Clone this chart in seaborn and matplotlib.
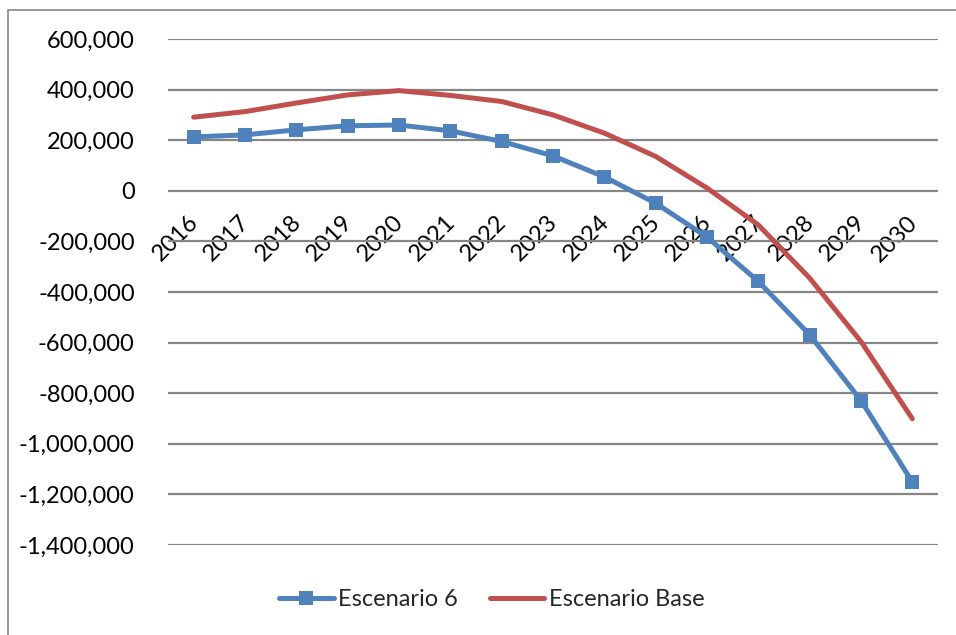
import matplotlib
matplotlib.use("Agg")
import matplotlib.pyplot as plt
import matplotlib.ticker as mticker
from matplotlib.lines import Line2D
from matplotlib.patches import Rectangle
from matplotlib.transforms import ScaledTranslation
import seaborn as sns
import pandas as pd

years = ["2016", "2017", "2018", "2019", "2020", "2021", "2022", "2023",
         "2024", "2025", "2026", "2027", "2028", "2029", "2030"]
escenario_6 = [213000, 221000, 241000, 257000, 260000, 237000, 195000, 138000,
               55000, -49000, -183000, -358000, -569000, -829000, -1151000]
escenario_base = [291000, 313000, 347000, 379000, 396000, 377000, 353000, 300000,
                  228000, 136000, 11000, -135000, -345000, -596000, -901000]
y_ticks = [600000, 400000, 200000, 0, -200000, -400000, -600000, -800000,
           -1000000, -1200000, -1400000]

blue = "#4F81BD"
red = "#C0504D"
grid_gray = "#868686"

sns.set_theme(style="white")
plt.rcParams["font.family"] = ["Lato", "DejaVu Sans"]

df = pd.DataFrame({"Año": years, "Escenario 6": escenario_6,
                   "Escenario Base": escenario_base})
df["pos"] = range(len(years))

fig = plt.figure(figsize=(9.56, 6.35), dpi=100)
ax = fig.add_axes([168 / 956, 1 - 545 / 635, (938 - 168) / 956, (545 - 39) / 635])

# chart-area frame
fig.patches.append(Rectangle((8 / 956, -0.1), 1.2, 1 - 10 / 635 + 0.1,
                             transform=fig.transFigure, fill=False,
                             edgecolor=grid_gray, linewidth=1.2, zorder=0))

for v in y_ticks:
    ax.axhline(v, color=grid_gray, linewidth=1.6, zorder=1)

sns.lineplot(data=df, x="pos", y="Escenario Base", ax=ax, color=red,
             linewidth=3.6, zorder=3, solid_capstyle="round")
sns.lineplot(data=df, x="pos", y="Escenario 6", ax=ax, color=blue,
             linewidth=3.6, marker="s", markersize=10, markeredgewidth=0,
             markerfacecolor=blue, zorder=4)

for s in ["top", "right", "left", "bottom"]:
    ax.spines[s].set_visible(False)
# category axis crosses the value axis at zero
ax.spines["bottom"].set_position(("data", 0))

ax.set_xlim(-0.5, len(years) - 0.5)
ax.set_ylim(-1400000, 600000)
ax.set_yticks(y_ticks)
ax.yaxis.set_major_formatter(mticker.FuncFormatter(lambda v, p: f"{int(v):,}"))
ax.tick_params(axis="y", length=0, pad=24, labelsize=17, labelcolor="black")

ax.set_xticks(range(len(years)))
ax.set_xticklabels(years, rotation=45, ha="right", va="top",
                   rotation_mode="anchor", fontsize=17)
ax.tick_params(axis="x", length=0, pad=15, labelcolor="black")
shift = ScaledTranslation(-0.06, 0, fig.dpi_scale_trans)
for lbl in ax.get_xticklabels():
    lbl.set_transform(lbl.get_transform() + shift)
ax.set_xlabel("")
ax.set_ylabel("")
if ax.get_legend():
    ax.get_legend().remove()

handles = [Line2D([], [], color=blue, linewidth=3.6, marker="s", markersize=10,
                  markeredgewidth=0),
           Line2D([], [], color=red, linewidth=3.6)]
fig.legend(handles, ["Escenario 6", "Escenario Base"], loc="center",
           bbox_to_anchor=(492 / 956, 1 - 600 / 635), ncol=2, frameon=False,
           fontsize=17, handlelength=2.3, handletextpad=0.2, columnspacing=1.35)

fig.savefig("out.png", dpi=100)
